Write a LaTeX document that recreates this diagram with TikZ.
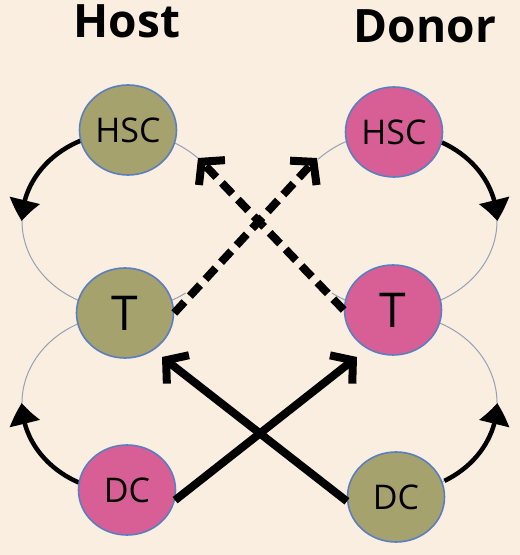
\documentclass[tikz,border=0pt]{standalone}
\usepackage{fontspec}
\setmainfont{Open Sans}
\usetikzlibrary{arrows.meta,shapes.geometric,bending}
\definecolor{bg}{HTML}{FAEEE0}
\definecolor{olive}{HTML}{A5A26E}
\definecolor{rose}{HTML}{D75F96}
\definecolor{rim}{HTML}{5B7EBE}
\definecolor{ringgrey}{HTML}{93A2B8}
\tikzset{
	cell/.style={ellipse, draw=rim, line width=1.6pt, minimum width=97pt, minimum height=90pt, inner sep=0pt, font=\fontsize{34}{34}\selectfont},
	olivecell/.style={cell, fill=olive},
	rosecell/.style={cell, fill=rose},
	bigletter/.style={font=\fontsize{48}{48}\selectfont},
	heading/.style={anchor=base, font=\fontsize{46}{46}\selectfont\bfseries},
	ring/.style={draw=ringgrey, line width=1pt},
	turn/.style={line width=4.5pt, -{Triangle[length=21pt, width=30pt, bend]}},
	hop/.style={line width=8pt, -{Straight Barb[length=15pt, width=36pt]}},
	hopdash/.style={hop, dash pattern=on 15pt off 8pt}
}
\begin{document}
\begin{tikzpicture}[x=1pt, y=1pt, line join=round]
	\useasboundingbox (0,0) rectangle (520,555);
	\fill[bg] (0,0) rectangle (520,555);
	\node[heading] (host) at (127,517) {Host};
	\node[heading] (donor) at (425,512) {Donor};
	\draw[ring] (125,334) ++(45:103pt and 89pt) arc[start angle=45, end angle=306, x radius=103pt, y radius=89pt];
	\draw[ring] (393,334) ++(136:104pt and 89pt) arc[start angle=136, end angle=-126, x radius=104pt, y radius=89pt];
	\draw[ring] (125,152) ++(110:103pt and 89pt) arc[start angle=110, end angle=250, x radius=103pt, y radius=89pt];
	\draw[ring] (395,152) ++(70:102pt and 89pt) arc[start angle=70, end angle=-70, x radius=102pt, y radius=89pt];
	\draw[turn] (125,334) ++(114:103pt and 89pt) arc[start angle=114, end angle=180, x radius=103pt, y radius=89pt];
	\draw[turn] (393,334) ++(62:104pt and 89pt) arc[start angle=62, end angle=0, x radius=104pt, y radius=89pt];
	\draw[turn] (125,152) ++(245:103pt and 89pt) arc[start angle=245, end angle=180, x radius=103pt, y radius=89pt];
	\draw[turn] (395,152) ++(-61:102pt and 89pt) arc[start angle=-61, end angle=0, x radius=102pt, y radius=89pt];
	\node[olivecell] (hostHSC) at (128,425) {HSC};
	\node[olivecell, bigletter] (hostT) at (125,242) {T};
	\node[rosecell] (hostDC) at (127,65) {DC};
	\node[rosecell] (donorHSC) at (394,423) {HSC};
	\node[rosecell, bigletter] (donorT) at (393,245) {T};
	\node[olivecell] (donorDC) at (396,58) {DC};
	\coordinate (toDonorHSC) at (317,397);
	\coordinate (toHostHSC) at (198,397);
	\coordinate (toDonorT) at (357,198);
	\coordinate (toHostT) at (162,198);
	\draw[hopdash] (hostT.east) -- (toDonorHSC);
	\draw[hopdash] (donorT.west) -- (toHostHSC);
	\draw[hop] (hostDC.-12) -- (toDonorT);
	\draw[hop] (donorDC.185) -- (toHostT);
\end{tikzpicture}
\end{document}
